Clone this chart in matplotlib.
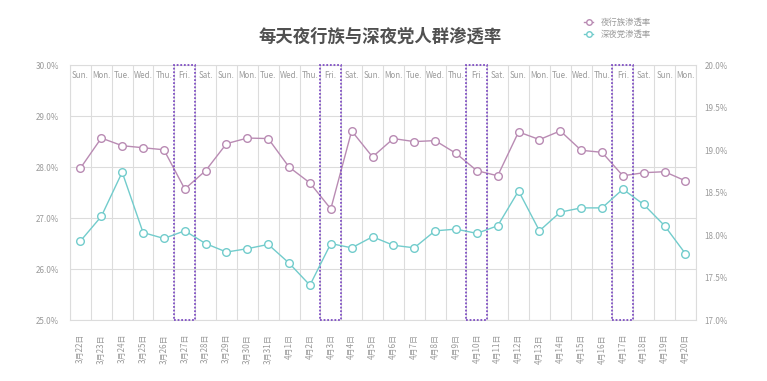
import matplotlib
matplotlib.use("Agg")
import matplotlib.pyplot as plt
import matplotlib.transforms as mtransforms
from matplotlib.patches import Rectangle
from matplotlib.lines import Line2D

plt.rcParams['font.family'] = ['Noto Sans CJK SC', 'DejaVu Sans']

dates = ["3月22日", "3月23日", "3月24日", "3月25日", "3月26日", "3月27日", "3月28日",
         "3月29日", "3月30日", "3月31日", "4月1日", "4月2日", "4月3日", "4月4日",
         "4月5日", "4月6日", "4月7日", "4月8日", "4月9日", "4月10日", "4月11日",
         "4月12日", "4月13日", "4月14日", "4月15日", "4月16日", "4月17日", "4月18日",
         "4月19日", "4月20日"]
weekdays = ["Sun.", "Mon.", "Tue.", "Wed.", "Thu.", "Fri.", "Sat."] * 4 + ["Sun.", "Mon."]

# 夜行族渗透率 (left axis, %)
night_owl = [27.98, 28.57, 28.42, 28.38, 28.34, 27.57, 27.93, 28.46, 28.57, 28.56,
             28.00, 27.69, 27.18, 28.71, 28.20, 28.56, 28.50, 28.52, 28.27, 27.93,
             27.83, 28.69, 28.54, 28.71, 28.33, 28.29, 27.83, 27.89, 27.91, 27.73]
# 深夜党渗透率 (right axis, %)
late_night = [17.93, 18.22, 18.74, 18.03, 17.96, 18.05, 17.90, 17.80, 17.84, 17.89,
              17.67, 17.41, 17.90, 17.85, 17.98, 17.88, 17.85, 18.05, 18.07, 18.02,
              18.11, 18.52, 18.05, 18.27, 18.32, 18.32, 18.54, 18.36, 18.11, 17.78]

left_ticks = [25.0, 26.0, 27.0, 28.0, 29.0, 30.0]
right_ticks = [17.0, 17.5, 18.0, 18.5, 19.0, 19.5, 20.0]
highlight = [5, 12, 19, 26]  # Fridays

PURPLE = "#b98bb3"
CYAN = "#72cccc"
GRID = "#dcdcdc"
TXT = "#9a9a9a"

fig = plt.figure(figsize=(7.67, 3.81), dpi=100)
ax = fig.add_axes([0.0913, 0.160, 0.816, 0.669])
ax2 = ax.twinx()

x = list(range(len(dates)))
ax.set_xlim(-0.5, len(dates) - 0.5)
ax.set_ylim(left_ticks[0], left_ticks[-1])
ax2.set_ylim(right_ticks[0], right_ticks[-1])

# grid
for y in left_ticks:
    ax.axhline(y, color=GRID, lw=0.8, zorder=0)
for i in range(len(dates) + 1):
    ax.axvline(i - 0.5, color=GRID, lw=0.8, zorder=0)

ax.plot(x, night_owl, color=PURPLE, lw=1.0, marker="o", ms=5.5,
        mfc="white", mec=PURPLE, mew=1.0, zorder=3)
ax2.plot(x, late_night, color=CYAN, lw=1.0, marker="o", ms=5.5,
         mfc="white", mec=CYAN, mew=1.0, zorder=3)

# dotted boxes on Fridays
trans = mtransforms.blended_transform_factory(ax.transData, ax.transAxes)
for i in highlight:
    ax.add_patch(Rectangle((i - 0.5, 0), 1, 1, transform=trans, fill=False,
                           ec="#8050c4", ls=(0, (1, 1)), lw=1.3, zorder=4,
                           clip_on=False))

# weekday labels along the top
for i, w in enumerate(weekdays):
    ax.text(i, 0.96, w, transform=trans, ha="center", va="center",
            fontsize=5.8, color=TXT)

ax.set_xticks(x)
ax.set_xticklabels(dates, rotation=90, fontsize=5.8, color=TXT)
ax.set_yticks(left_ticks)
ax.set_yticklabels([f"{v:.1f}%" for v in left_ticks], fontsize=5.8, color=TXT)
ax2.set_yticks(right_ticks)
ax2.set_yticklabels([f"{v:.1f}%" for v in right_ticks], fontsize=5.8, color=TXT)

for a in (ax, ax2):
    a.tick_params(length=0)
    for s in a.spines.values():
        s.set_visible(False)
ax.tick_params(axis="x", pad=10)
ax.tick_params(axis="y", pad=8)
ax2.tick_params(axis="y", pad=6)
for s in ax.spines.values():
    s.set_visible(True)
    s.set_color(GRID)
    s.set_linewidth(0.8)

fig.text(0.495, 0.905, "每天夜行族与深夜党人群渗透率", ha="center", va="center",
         fontsize=12.5, fontweight="bold", color="#505050")

handles = [Line2D([], [], color=PURPLE, lw=1.0, marker="o", ms=4, mfc="white", mec=PURPLE),
           Line2D([], [], color=CYAN, lw=1.0, marker="o", ms=4, mfc="white", mec=CYAN)]
fig.legend(handles, ["夜行族渗透率", "深夜党渗透率"], loc="center left",
           bbox_to_anchor=(0.752, 0.925), frameon=False, fontsize=6, labelcolor=TXT,
           handlelength=1.1, handletextpad=0.9, labelspacing=0.35)

fig.savefig("out.png", dpi=100, facecolor="white")
